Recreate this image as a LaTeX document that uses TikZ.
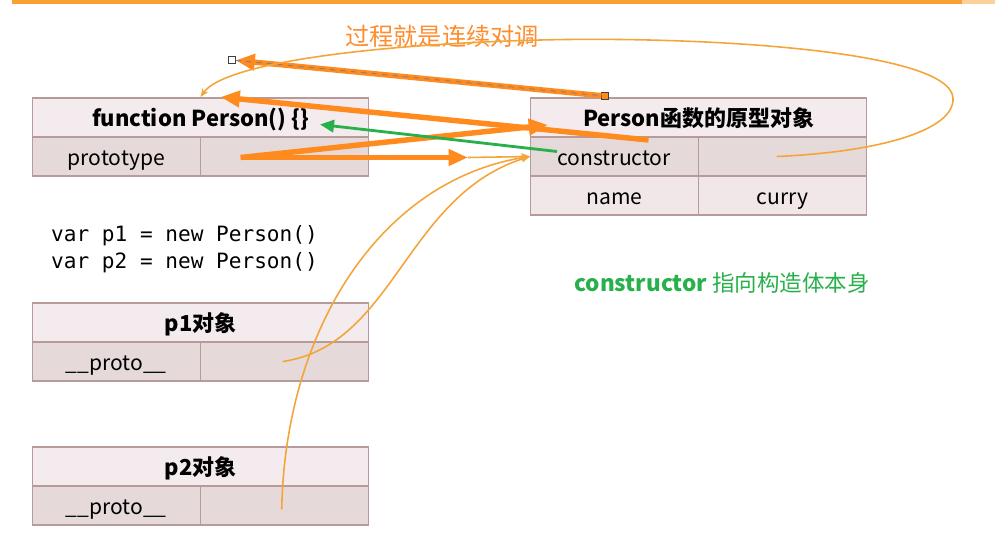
\documentclass[tikz,border=0pt]{standalone}
\usepackage{fontspec}
\setmainfont{Noto Sans CJK SC}
\setmonofont{DejaVu Sans Mono}
\usetikzlibrary{positioning, arrows.meta, calc}

\definecolor{hdrpink}{HTML}{F3EBED}
\definecolor{cellpink}{HTML}{E6D9D9}
\definecolor{namepink}{HTML}{F1E7E8}
\definecolor{boxline}{HTML}{B79B9B}
\definecolor{fatorange}{HTML}{FF8A1E}
\definecolor{linkorange}{HTML}{F4A53A}
\definecolor{titleorange}{HTML}{FF8C2E}
\definecolor{notegreen}{HTML}{27B04B}
\definecolor{ruleorange}{HTML}{F7A033}

\tikzset{
  hdr/.style={draw=boxline, fill=hdrpink, line width=0.6pt, outer sep=0pt, inner sep=0pt,
    minimum width=6.74cm, minimum height=0.78cm, text height=11pt, text depth=1pt,
    font=\fontsize{12.5}{14}\selectfont\bfseries},
  cell/.style={draw=boxline, fill=cellpink, line width=0.6pt, outer sep=0pt, inner sep=0pt,
    minimum width=3.37cm, minimum height=0.78cm, text height=11pt, text depth=1pt,
    font=\fontsize{12}{14}\selectfont},
  bigarrow/.style={draw=fatorange, line width=3.1pt, -{Triangle[length=11pt,width=9pt]}},
  curlink/.style={draw=linkorange, line width=0.9pt, -{Stealth[length=5pt,width=4pt]}},
  handle/.style={draw=darkgray, line width=0.5pt, minimum size=4pt, inner sep=0pt, outer sep=0pt}
}

\begin{document}
\begin{tikzpicture}[x=0.02cm, y=-0.02cm]
    \useasboundingbox (0,0) rectangle (995,549);
    \draw[ruleorange, line width=2.3pt] (12,2) -- (962,2);
    \draw[ruleorange!50, line width=2.3pt] (962,2) -- (995,2);

    % Function box
    \node[hdr] (fn) at (200.5,117.5) {function Person() \{\}};
    \node[cell, anchor=north west] (fnkey) at (fn.south west) {prototype};
    \node[cell, right=0pt of fnkey] (fnval) {};

    % Prototype object
    \node[hdr] (pr) at (698.5,117.5) {Person函数的原型对象};
    \node[cell, anchor=north west] (prkey) at (pr.south west) {constructor};
    \node[cell, right=0pt of prkey] (prval) {};
    \node[cell, fill=namepink, below=0pt of prkey] (namekey) {name};
    \node[cell, fill=namepink, right=0pt of namekey] (nameval) {curry};

    % Code
    \node[anchor=west, align=left, font=\ttfamily\fontsize{12}{15.3}\selectfont] (code) at (45,249)
        {var p1 = new Person()\\var p2 = new Person()};

    % p1 / p2 objects
    \node[hdr] (p1) at (200.5,322.5) {p1对象};
    \node[cell, anchor=north west] (p1key) at (p1.south west) {\_\_proto\_\_};
    \node[cell, right=0pt of p1key] (p1val) {};
    \node[hdr] (p2) at (200.5,466.5) {p2对象};
    \node[cell, anchor=north west] (p2key) at (p2.south west) {\_\_proto\_\_};
    \node[cell, right=0pt of p2key] (p2val) {};

    % Texts
    \node[text=titleorange, font=\fontsize{13.8}{16}\selectfont] (title) at (442,36) {过程就是连续对调};
    \node[text=notegreen, font=\fontsize{12.8}{15}\selectfont] (note) at (722,283)
        {\textbf{constructor} 指向构造体本身};

    % Swap arrows
    \node[handle, fill=white] (hl) at (232,60) {};
    \node[handle, fill=fatorange] (hr) at (605,96) {};
    \draw[bigarrow] (hr) -- (hl);
    \draw[gray, dashed, line width=0.5pt] (hl) -- (hr);
    \draw[bigarrow] ($(pr.south)+(-50,3)$) -- ($(fn.north)+(20,-1)$);
    \draw[bigarrow] ($(fnkey.east)+(40,1)$) -- ($(pr.south west)+(18,-12)$);
    \draw[bigarrow] ($(fnkey.east)+(40,1)$) -- ($(fnval.east)+(99,1)$);
    \draw[curlink] ($(fnval.east)+(99,1)$) -- (prkey.west);
    \draw[draw=notegreen, line width=1.6pt, -{Triangle[length=8pt,width=7pt]}]
        ($(prkey.west)+(27,-5)$) -- ($(fn.east)+(-49,7)$);

    % Prototype links
    \draw[curlink] ($(prval.center)+(-6,0)$) .. controls (880,152) and (955,130) .. (953,98)
        .. controls (950,50) and (700,36) .. (540,40)
        .. controls (380,44) and (225,62) .. ($(fn.north)+(0,-1)$);
    \draw[curlink] ($(p1val.center)+(-2,0)$) .. controls (395,345) and (405,195) .. (prkey.west);
    \draw[curlink] ($(p2val.center)+(-3,4)$) .. controls (285,330) and (380,180) .. (prkey.west);
\end{tikzpicture}
\end{document}
